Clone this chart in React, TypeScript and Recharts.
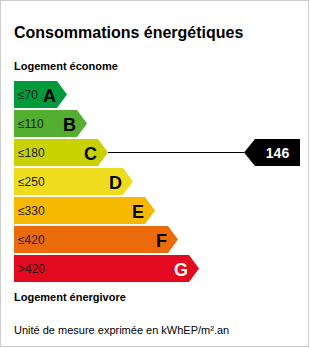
import React from 'react';
import { BarChart, Bar, XAxis, YAxis, Customized } from 'recharts';

const classes = ['A', 'B', 'C', 'D', 'E', 'F', 'G'];
const thresholds = ['≤70', '≤110', '≤180', '≤250', '≤330', '≤420', '>420'];
const barLengths = [53, 73, 94, 119, 141, 164, 185];
const colors = ['#009a3d', '#53ae32', '#c9d200', '#f0dc1e', '#f7b800', '#eb6b0a', '#e3091f'];
const letterColors = ['#000', '#000', '#000', '#000', '#000', '#000', '#fff'];
const currentValue = 146;
const currentClass = 'C';

const title = 'Consommations énergétiques';
const topLabel = 'Logement économe';
const bottomLabel = 'Logement énergivore';
const unitLabel = 'Unité de mesure exprimée en kWhEP/m².an';

const data = classes.map((c, i) => ({
  cls: c,
  len: barLengths[i],
  threshold: thresholds[i],
  color: colors[i],
  letterColor: letterColors[i],
}));

const FONT = '"Liberation Sans", Arial, Helvetica, sans-serif';

const ArrowShape = (props: any) => {
  const { x, y, width, height, payload, background } = props;
  const d = 10;
  const cy = y + height / 2;
  const tip = x + width;
  const pts = `${x},${y} ${tip - d},${y} ${tip},${cy} ${tip - d},${y + height} ${x},${y + height}`;
  const isCurrent = payload.cls === currentClass;
  let marker = null;
  if (isCurrent && background) {
    const right = background.x + background.width - 10;
    const mw = 45;
    const md = 11;
    const left = right - mw;
    const mPts = `${left - md},${cy} ${left},${y} ${right},${y} ${right},${y + height} ${left},${y + height}`;
    marker = (
      <g>
        <line x1={tip} y1={cy} x2={left - md} y2={cy} stroke="#000" strokeWidth={1} />
        <polygon points={mPts} fill="#000" />
        <text x={left + mw / 2} y={cy + 5} textAnchor="middle" fill="#fff" fontFamily={FONT} fontWeight="bold" fontSize={14}>
          {currentValue}
        </text>
      </g>
    );
  }
  return (
    <g>
      <polygon points={pts} fill={payload.color} />
      <text x={x + 4} y={cy + 4.5} fill="#1a1a1a" fontFamily={FONT} fontSize={12}>
        {payload.threshold}
      </text>
      <text x={tip - 11} y={cy + 7} textAnchor="end" fill={payload.letterColor} fontFamily={FONT} fontWeight="bold" fontSize={18}>
        {payload.cls}
      </text>
      {marker}
    </g>
  );
};

const TextLayer = () => (
  <g fontFamily={FONT}>
    <text x={14} y={38} fontSize={16} fontWeight="bold" fill="#000">{title}</text>
    <text x={14} y={70} fontSize={11} fontWeight="bold" fill="#000">{topLabel}</text>
    <text x={14} y={300.5} fontSize={11} fontWeight="bold" fill="#000">{bottomLabel}</text>
    <text x={14} y={333.5} fontSize={11} fill="#000">{unitLabel}</text>
  </g>
);

export default function App() {
  return (
    <div style={{ position: 'absolute', left: 0, top: 0, width: 310, height: 348, background: '#fff' }}>
      <div style={{ position: 'absolute', left: 0, top: 0, width: 309, height: 347, border: '1px solid #cccccc', boxSizing: 'border-box' }} />
      <div style={{ position: 'absolute', left: 0, top: 0 }}>
        <BarChart
          width={310}
          height={348}
          data={data}
          layout="vertical"
          margin={{ top: 80, right: 0, bottom: 65, left: 14 }}
        >
          <XAxis type="number" domain={[0, 296]} hide />
          <YAxis type="category" dataKey="cls" hide />
          <Bar dataKey="len" barSize={27} shape={ArrowShape} isAnimationActive={false} />
          <Customized component={TextLayer} />
        </BarChart>
      </div>
    </div>
  );
}
